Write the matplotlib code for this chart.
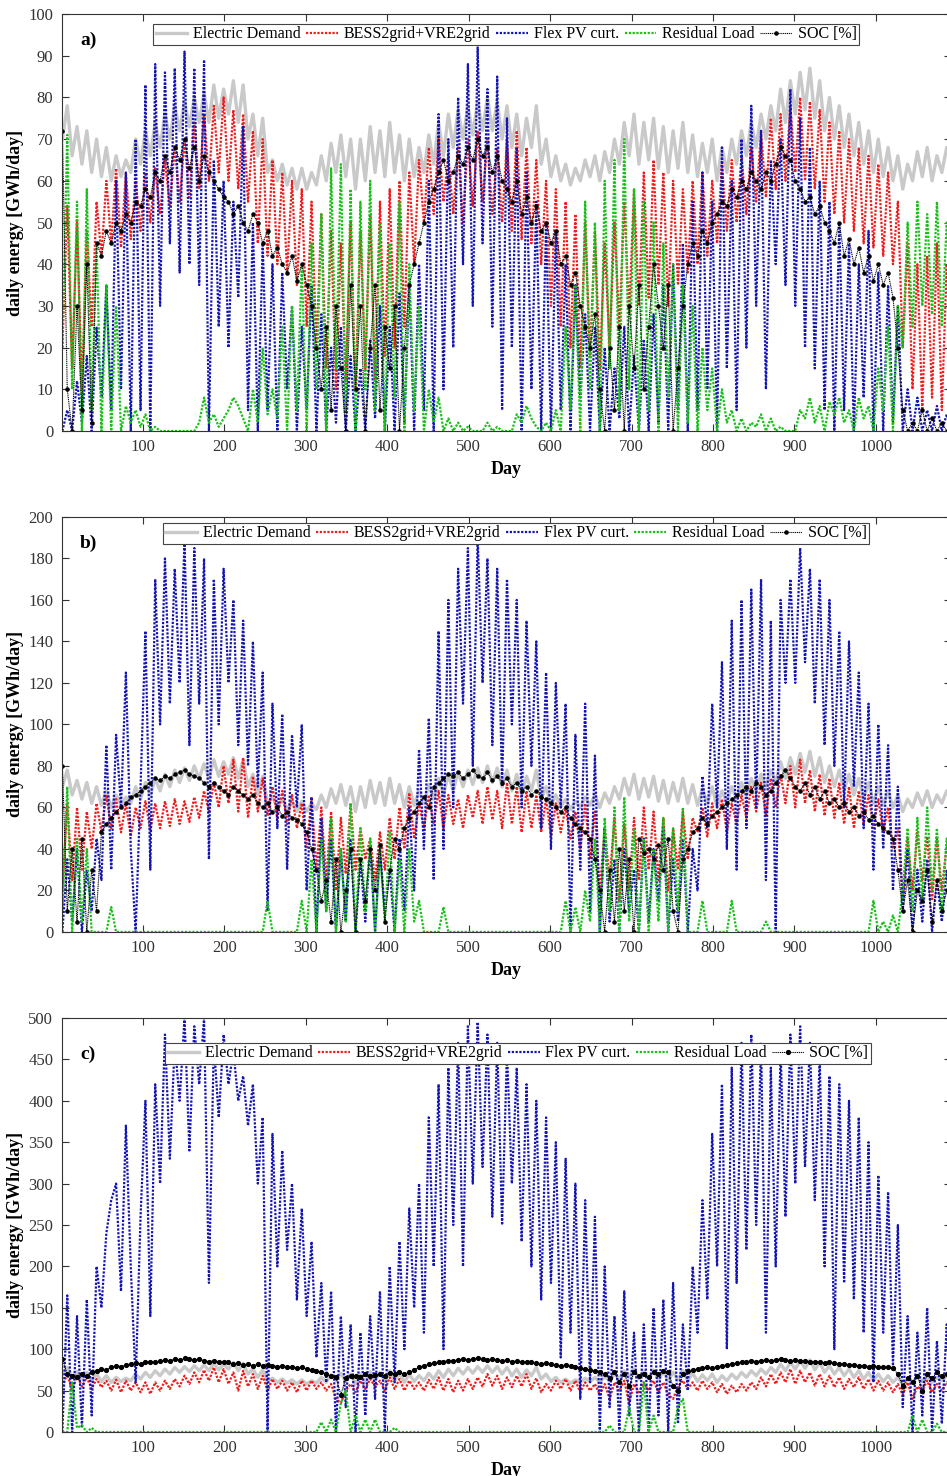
import numpy as np
import matplotlib.pyplot as plt

plt.rcParams['font.family'] = ['Liberation Serif', 'DejaVu Serif']

# one reading every 6 days (day 1 .. 1093)
days = np.arange(1, 1094, 6)

# electric demand, same in the three cases
demand = [70, 78, 66, 73, 64, 72, 62, 70, 61, 68,
          60, 66, 61, 65, 62, 70, 64, 72, 66, 74,
          68, 76, 70, 78, 72, 79, 73, 80, 74, 81,
          74, 83, 75, 82, 76, 84, 74, 83, 70, 76,
          66, 75, 62, 65, 60, 64, 59, 63, 58, 63,
          58, 62, 59, 66, 60, 69, 62, 71, 61, 70,
          58, 70, 60, 73, 62, 72, 61, 74, 62, 71,
          60, 70, 61, 68, 62, 71, 64, 74, 66, 76,
          68, 77, 70, 78, 71, 79, 72, 80, 72, 79,
          70, 78, 68, 76, 66, 75, 68, 78, 64, 70,
          61, 66, 60, 64, 59, 63, 60, 65, 61, 66,
          60, 67, 62, 70, 64, 74, 66, 76, 64, 74,
          65, 75, 63, 73, 62, 72, 63, 74, 62, 71,
          61, 69, 62, 70, 60, 68, 62, 70, 64, 72,
          66, 74, 68, 76, 70, 78, 72, 82, 74, 84,
          76, 86, 77, 87, 75, 84, 72, 80, 70, 78,
          68, 76, 66, 74, 64, 72, 62, 70, 61, 68,
          60, 66, 58, 64, 60, 67, 61, 68, 60, 66,
          62, 68, 63]

# ---- case a) ----
pv_a = [0, 5, 0, 12, 2, 18, 0, 25, 8, 35,
        5, 60, 10, 62, 0, 70, 5, 83, 0, 88,
        30, 86, 45, 87, 38, 91, 40, 87, 35, 89,
        0, 65, 25, 60, 20, 55, 32, 73, 5, 50,
        0, 45, 5, 40, 0, 38, 10, 30, 0, 25,
        5, 35, 0, 28, 0, 20, 2, 25, 0, 18,
        0, 15, 0, 22, 3, 30, 0, 25, 0, 33,
        2, 35, 0, 40, 5, 60, 0, 76, 10, 70,
        20, 80, 40, 88, 30, 92, 45, 82, 25, 85,
        5, 75, 20, 68, 0, 62, 10, 55, 0, 50,
        0, 48, 5, 40, 0, 35, 8, 28, 0, 25,
        0, 20, 0, 15, 3, 25, 0, 18, 0, 22,
        0, 28, 2, 35, 0, 40, 5, 45, 0, 55,
        5, 62, 10, 55, 0, 68, 15, 60, 5, 70,
        20, 78, 30, 72, 10, 65, 40, 70, 35, 82,
        30, 75, 20, 68, 15, 60, 5, 55, 0, 50,
        5, 45, 0, 40, 8, 48, 0, 38, 0, 35,
        2, 30, 0, 10, 0, 8, 0, 5, 0, 6,
        0, 4, 0]
bess_a = [20, 54, 15, 50, 10, 48, 25, 55, 42, 60,
          45, 63, 44, 62, 46, 60, 48, 62, 50, 63,
          52, 65, 54, 68, 55, 70, 56, 74, 58, 76,
          60, 78, 62, 80, 60, 77, 58, 76, 55, 72,
          45, 70, 42, 65, 40, 62, 38, 60, 35, 58,
          25, 55, 20, 52, 15, 48, 10, 45, 12, 50,
          10, 48, 15, 52, 12, 55, 18, 58, 20, 60,
          25, 62, 40, 65, 50, 68, 52, 70, 55, 66,
          52, 68, 50, 70, 54, 72, 55, 70, 52, 68,
          50, 70, 48, 72, 46, 68, 45, 65, 40, 60,
          30, 58, 25, 55, 20, 52, 15, 50, 18, 48,
          15, 45, 20, 50, 25, 55, 28, 58, 30, 62,
          32, 65, 35, 62, 30, 60, 35, 58, 38, 60,
          40, 62, 42, 60, 45, 64, 48, 65, 50, 66,
          52, 68, 55, 72, 56, 75, 58, 76, 60, 78,
          62, 80, 60, 79, 58, 77, 55, 74, 52, 72,
          50, 70, 48, 68, 45, 66, 44, 64, 42, 62,
          40, 55, 20, 45, 10, 40, 5, 42, 8, 45,
          5, 40, 10]
res_a = [20, 71, 10, 55, 0, 58, 5, 45, 0, 35,
         0, 30, 0, 6, 2, 5, 1, 4, 0, 1,
         0, 0, 0, 0, 0, 0, 0, 0, 2, 8,
         2, 4, 1, 3, 5, 8, 6, 3, 0, 10,
         2, 20, 4, 10, 3, 25, 0, 30, 5, 40,
         0, 45, 10, 52, 0, 63, 15, 64, 5, 58,
         0, 55, 10, 60, 5, 50, 0, 45, 8, 55,
         0, 40, 5, 30, 0, 10, 2, 8, 0, 3,
         0, 2, 0, 1, 0, 0, 0, 2, 0, 1,
         0, 0, 0, 4, 2, 6, 3, 1, 0, 2,
         0, 5, 0, 25, 5, 35, 0, 55, 10, 50,
         0, 60, 15, 65, 5, 70, 10, 58, 0, 55,
         5, 50, 0, 45, 8, 40, 0, 35, 2, 30,
         0, 20, 5, 15, 0, 10, 2, 5, 0, 3,
         0, 2, 1, 4, 0, 3, 0, 1, 0, 0,
         0, 5, 3, 8, 2, 6, 0, 7, 4, 8,
         2, 5, 0, 8, 3, 6, 0, 15, 5, 25,
         0, 30, 20, 50, 25, 55, 30, 52, 28, 55,
         25, 50, 30]
soc_a = [72, 10, 0, 30, 5, 40, 2, 45, 42, 48,
         45, 50, 48, 52, 50, 55, 54, 58, 56, 62,
         60, 66, 62, 68, 65, 70, 63, 68, 60, 66,
         62, 60, 58, 56, 55, 52, 54, 50, 48, 52,
         50, 45, 48, 42, 44, 40, 38, 42, 36, 40,
         35, 30, 20, 10, 25, 5, 30, 15, 0, 35,
         10, 30, 0, 20, 35, 5, 25, 15, 30, 0,
         20, 35, 40, 45, 50, 55, 58, 62, 65, 60,
         62, 66, 64, 68, 65, 70, 66, 68, 62, 66,
         60, 58, 55, 60, 52, 56, 50, 54, 48, 50,
         45, 48, 40, 42, 35, 38, 30, 25, 20, 28,
         10, 0, 20, 5, 25, 0, 30, 15, 35, 10,
         25, 40, 30, 20, 35, 0, 15, 30, 40, 45,
         42, 48, 45, 50, 52, 55, 54, 58, 56, 60,
         58, 62, 60, 58, 62, 60, 64, 68, 66, 65,
         60, 58, 55, 56, 52, 54, 50, 48, 45, 50,
         42, 46, 40, 44, 38, 42, 36, 40, 35, 38,
         32, 20, 5, 0, 2, 0, 5, 0, 3, 0,
         2, 0, 1]

# ---- case b) ----
pv_b = [0, 35, 5, 40, 0, 30, 10, 45, 25, 90,
        30, 95, 60, 125, 40, 0, 70, 145, 30, 170,
        100, 180, 110, 175, 120, 188, 90, 185, 110, 180,
        35, 170, 100, 175, 120, 160, 90, 150, 80, 140,
        70, 125, 10, 110, 50, 105, 30, 95, 60, 100,
        20, 65, 0, 55, 10, 45, 0, 40, 5, 45,
        0, 35, 5, 42, 0, 40, 10, 30, 0, 45,
        10, 60, 20, 88, 40, 103, 25, 145, 40, 160,
        60, 175, 110, 185, 80, 190, 120, 180, 90, 175,
        70, 170, 100, 160, 60, 150, 80, 140, 50, 125,
        40, 120, 60, 110, 0, 95, 30, 110, 10, 85,
        0, 50, 5, 35, 0, 40, 10, 30, 0, 45,
        5, 40, 15, 50, 0, 35, 5, 45, 0, 40,
        20, 75, 50, 110, 60, 130, 40, 150, 30, 160,
        50, 165, 60, 170, 25, 150, 0, 160, 120, 170,
        120, 185, 130, 175, 110, 170, 90, 160, 80, 145,
        60, 140, 70, 125, 50, 110, 30, 100, 40, 90,
        20, 70, 10, 40, 0, 30, 5, 35, 0, 25,
        5, 30, 0]
bess_b = [20, 62, 25, 60, 30, 58, 40, 62, 48, 66,
          50, 64, 48, 62, 46, 60, 50, 63, 49, 62,
          50, 63, 51, 64, 52, 63, 53, 65, 55, 68,
          58, 72, 60, 80, 62, 83, 58, 84, 55, 75,
          58, 74, 56, 70, 55, 68, 52, 66, 50, 62,
          40, 65, 30, 60, 25, 58, 20, 55, 28, 62,
          30, 50, 35, 45, 25, 48, 30, 55, 35, 60,
          40, 67, 45, 62, 50, 66, 52, 68, 50, 66,
          52, 64, 50, 66, 55, 68, 52, 70, 54, 68,
          50, 72, 52, 70, 48, 68, 50, 66, 48, 64,
          46, 62, 48, 60, 45, 58, 40, 62, 35, 58,
          20, 50, 25, 55, 15, 52, 20, 55, 25, 60,
          30, 58, 25, 55, 20, 50, 30, 58, 35, 55,
          48, 60, 46, 62, 50, 64, 48, 62, 52, 66,
          55, 70, 58, 72, 56, 74, 60, 76, 62, 80,
          60, 83, 62, 78, 58, 76, 56, 74, 55, 72,
          52, 70, 50, 68, 52, 66, 50, 64, 48, 60,
          40, 50, 15, 45, 20, 48, 25, 46, 15, 45,
          20, 42, 25]
res_b = [10, 70, 0, 45, 5, 40, 0, 0, 0, 0,
         12, 0, 0, 0, 0, 0, 0, 0, 0, 0,
         0, 0, 0, 0, 0, 0, 0, 0, 0, 0,
         0, 0, 0, 0, 0, 0, 0, 0, 0, 0,
         0, 0, 15, 0, 0, 0, 0, 0, 0, 15,
         0, 35, 0, 45, 10, 55, 0, 40, 5, 62,
         0, 50, 10, 45, 0, 40, 5, 48, 0, 35,
         0, 40, 5, 15, 0, 0, 0, 0, 12, 0,
         0, 0, 0, 0, 0, 0, 0, 0, 0, 0,
         0, 0, 0, 0, 0, 0, 0, 0, 0, 0,
         0, 0, 0, 15, 0, 12, 0, 20, 5, 45,
         0, 55, 10, 60, 0, 65, 5, 50, 0, 45,
         0, 40, 5, 55, 0, 50, 10, 60, 0, 0,
         0, 15, 0, 0, 0, 0, 0, 15, 0, 0,
         0, 0, 0, 0, 5, 0, 0, 0, 0, 0,
         0, 0, 0, 0, 0, 0, 0, 0, 0, 0,
         0, 0, 0, 0, 0, 0, 15, 0, 5, 0,
         8, 0, 20, 50, 10, 55, 15, 60, 20, 50,
         10, 45, 20]
soc_b = [80, 10, 40, 5, 45, 0, 30, 10, 48, 52,
         55, 58, 60, 62, 65, 66, 68, 70, 72, 74,
         73, 75, 74, 76, 77, 78, 76, 75, 74, 72,
         70, 72, 70, 68, 66, 70, 68, 66, 64, 66,
         62, 60, 62, 58, 60, 56, 58, 55, 54, 52,
         48, 40, 30, 15, 25, 5, 35, 0, 20, 40,
         0, 35, 15, 40, 20, 42, 5, 30, 45, 40,
         50, 55, 58, 62, 65, 60, 70, 72, 74, 76,
         75, 77, 74, 76, 78, 75, 74, 77, 73, 75,
         72, 74, 70, 72, 68, 70, 66, 68, 65, 64,
         62, 60, 58, 60, 55, 52, 50, 48, 45, 35,
         20, 0, 30, 5, 40, 10, 35, 0, 45, 38,
         40, 35, 42, 30, 45, 10, 0, 35, 40, 48,
         50, 55, 52, 56, 58, 60, 62, 64, 66, 68,
         70, 68, 72, 70, 66, 68, 72, 75, 78, 74,
         70, 68, 72, 66, 70, 64, 68, 62, 64, 60,
         62, 58, 60, 56, 58, 54, 56, 52, 50, 48,
         45, 30, 10, 25, 0, 20, 15, 30, 5, 25,
         10, 20, 5]

# ---- case c) ----
pv_c = [0, 165, 0, 140, 5, 160, 20, 200, 150, 240,
        280, 300, 170, 370, 200, 60, 260, 400, 140, 420,
        300, 480, 330, 470, 400, 500, 340, 490, 420, 500,
        180, 470, 380, 480, 420, 460, 400, 430, 370, 420,
        300, 380, 0, 360, 200, 340, 220, 300, 160, 270,
        140, 230, 90, 180, 60, 170, 0, 140, 30, 130,
        0, 120, 20, 140, 40, 170, 0, 200, 60, 230,
        100, 270, 150, 300, 120, 380, 200, 420, 100, 440,
        250, 470, 200, 490, 300, 495, 320, 480, 260, 470,
        250, 460, 300, 440, 230, 420, 200, 400, 160, 380,
        180, 350, 90, 330, 120, 300, 40, 280, 60, 260,
        0, 200, 30, 140, 0, 170, 20, 120, 0, 130,
        0, 150, 20, 160, 0, 180, 10, 130, 50, 200,
        120, 280, 160, 360, 200, 420, 100, 440, 180, 470,
        220, 480, 250, 470, 120, 440, 200, 460, 260, 480,
        300, 490, 320, 470, 280, 450, 200, 430, 100, 420,
        180, 400, 160, 380, 120, 350, 60, 310, 120, 290,
        80, 250, 30, 140, 0, 120, 20, 150, 0, 110,
        10, 130, 0]
bess_c = [55, 70, 50, 68, 55, 66, 52, 64, 54, 62,
          50, 63, 48, 62, 50, 60, 48, 60, 46, 60,
          50, 62, 52, 64, 55, 68, 58, 72, 60, 75,
          62, 78, 60, 76, 58, 72, 50, 74, 55, 70,
          52, 68, 50, 64, 52, 62, 50, 60, 48, 62,
          50, 62, 52, 60, 50, 58, 40, 35, 50, 58,
          48, 62, 52, 64, 55, 62, 50, 66, 52, 64,
          50, 62, 52, 60, 50, 63, 52, 66, 50, 64,
          48, 62, 50, 64, 52, 66, 55, 70, 56, 68,
          52, 66, 54, 68, 55, 70, 52, 65, 48, 58,
          50, 62, 52, 64, 50, 62, 48, 60, 50, 58,
          45, 58, 40, 60, 50, 62, 35, 58, 48, 60,
          50, 62, 48, 60, 45, 40, 55, 62, 52, 60,
          50, 62, 52, 60, 48, 58, 46, 56, 48, 58,
          50, 60, 52, 66, 55, 70, 58, 72, 60, 76,
          58, 74, 60, 72, 56, 70, 55, 68, 54, 66,
          52, 64, 54, 66, 52, 64, 50, 62, 50, 60,
          48, 58, 45, 60, 40, 55, 50, 62, 48, 58,
          50, 60, 52]
res_c = [0, 0, 60, 5, 8, 0, 5, 0, 0, 0,
         0, 0, 0, 0, 0, 0, 0, 0, 0, 0,
         0, 0, 0, 0, 0, 0, 0, 0, 0, 0,
         0, 0, 0, 0, 0, 0, 0, 0, 0, 0,
         0, 0, 0, 0, 0, 0, 0, 0, 0, 0,
         0, 0, 0, 12, 0, 15, 0, 35, 50, 0,
         20, 0, 15, 0, 15, 0, 0, 0, 5, 0,
         0, 0, 0, 0, 0, 0, 0, 0, 0, 0,
         0, 0, 0, 0, 0, 0, 0, 0, 0, 0,
         0, 0, 0, 0, 0, 0, 0, 0, 0, 0,
         0, 0, 0, 0, 0, 0, 0, 0, 0, 0,
         0, 0, 8, 0, 0, 0, 30, 0, 0, 60,
         0, 20, 0, 0, 0, 0, 30, 40, 0, 0,
         0, 0, 0, 0, 0, 0, 0, 0, 0, 0,
         0, 0, 0, 0, 0, 0, 0, 0, 0, 0,
         0, 0, 0, 0, 0, 0, 0, 0, 0, 0,
         0, 0, 0, 0, 0, 0, 0, 0, 0, 0,
         0, 0, 0, 0, 20, 0, 15, 0, 0, 10,
         0, 0, 0]
soc_c = [88, 70, 68, 66, 70, 68, 72, 74, 76, 75,
         78, 80, 79, 81, 82, 83, 82, 84, 85, 84,
         86, 87, 86, 88, 87, 89, 88, 87, 88, 86,
         85, 86, 84, 85, 84, 82, 83, 81, 82, 80,
         82, 80, 81, 80, 79, 80, 78, 79, 77, 78,
         76, 75, 74, 72, 70, 68, 66, 45, 65, 68,
         68, 66, 70, 68, 69, 70, 68, 71, 70, 72,
         70, 72, 75, 78, 80, 82, 83, 84, 85, 86,
         86, 87, 88, 87, 88, 89, 88, 87, 88, 87,
         86, 87, 85, 86, 84, 85, 84, 83, 82, 83,
         82, 81, 80, 81, 80, 78, 77, 76, 75, 74,
         72, 70, 65, 72, 60, 70, 55, 72, 68, 70,
         66, 72, 70, 74, 72, 55, 50, 70, 74, 75,
         76, 77, 78, 77, 79, 80, 81, 82, 83, 84,
         85, 86, 85, 86, 87, 86, 87, 88, 87, 86,
         87, 86, 86, 85, 85, 84, 83, 84, 83, 82,
         82, 81, 81, 80, 80, 79, 80, 78, 79, 78,
         77, 70, 55, 65, 60, 68, 50, 70, 65, 72,
         68, 70, 66]

DOTTED = (0, (1.0, 0.7))


def plot_panel(ax, pv, bess, res, soc, ymax, ystep, tag, tag_y, leg_x, leg_y, soc_ms):
    """Draws one case: demand, battery/VRE to grid, curtailment, residual load and SOC."""
    ax.plot(days, demand, color='#c9c9c9', lw=2.4, label='Electric Demand')
    ax.plot(days, bess, color='#ee1c1c', lw=1.6, ls=DOTTED, label='BESS2grid+VRE2grid')
    ax.plot(days, pv, color='#1414b4', lw=1.6, ls=DOTTED, label='Flex PV curt.')
    ax.plot(days, res, color='#18c018', lw=1.6, ls=DOTTED, label='Residual Load')
    ax.plot(days, soc, color='black', lw=0.8, ls=DOTTED, marker='.', ms=soc_ms,
            label='SOC [%]')

    ax.set_xlim(0, 1092)
    ax.set_ylim(0, ymax)
    ax.set_xticks(np.arange(100, 1001, 100))
    ax.set_yticks(np.arange(0, ymax + 1, ystep))
    ax.tick_params(direction='in', top=True, right=True, length=5, width=0.8,
                   labelsize=12, colors='#333333', pad=6)
    for sp in ax.spines.values():
        sp.set_color('#333333')
        sp.set_linewidth(0.8)
    ax.set_xlabel('Day', fontsize=13, fontweight='bold', labelpad=4)
    ax.set_ylabel('daily energy [GWh/day]', fontsize=13, fontweight='bold', labelpad=3)
    ax.text(0.021, tag_y, tag, transform=ax.transAxes, fontsize=14, fontweight='bold',
            va='center', ha='left')
    leg = ax.legend(loc='upper center', bbox_to_anchor=(leg_x, leg_y), ncol=5,
                    fontsize=11.5, frameon=True, fancybox=False, framealpha=1,
                    edgecolor='#444444', borderpad=0.15, handlelength=2.0,
                    handletextpad=0.35, columnspacing=0.35, borderaxespad=0,
                    numpoints=1)
    leg.get_frame().set_linewidth(0.8)


fig = plt.figure(figsize=(9.47, 14.76), dpi=100)
ax_a = fig.add_axes([0.065, 0.708, 0.939, 0.2825])
ax_b = fig.add_axes([0.065, 0.3686, 0.939, 0.2812])
ax_c = fig.add_axes([0.065, 0.0298, 0.939, 0.2805])

plot_panel(ax_a, pv_a, bess_a, res_a, soc_a, 100, 10, 'a)', 0.937, 0.50, 0.976, 4.5)
plot_panel(ax_b, pv_b, bess_b, res_b, soc_b, 200, 20, 'b)', 0.937, 0.511, 0.9855, 4.5)
plot_panel(ax_c, pv_c, bess_c, res_c, soc_c, 500, 50, 'c)', 0.913, 0.513, 0.94, 5.5)

fig.savefig('out.png', dpi=100)
